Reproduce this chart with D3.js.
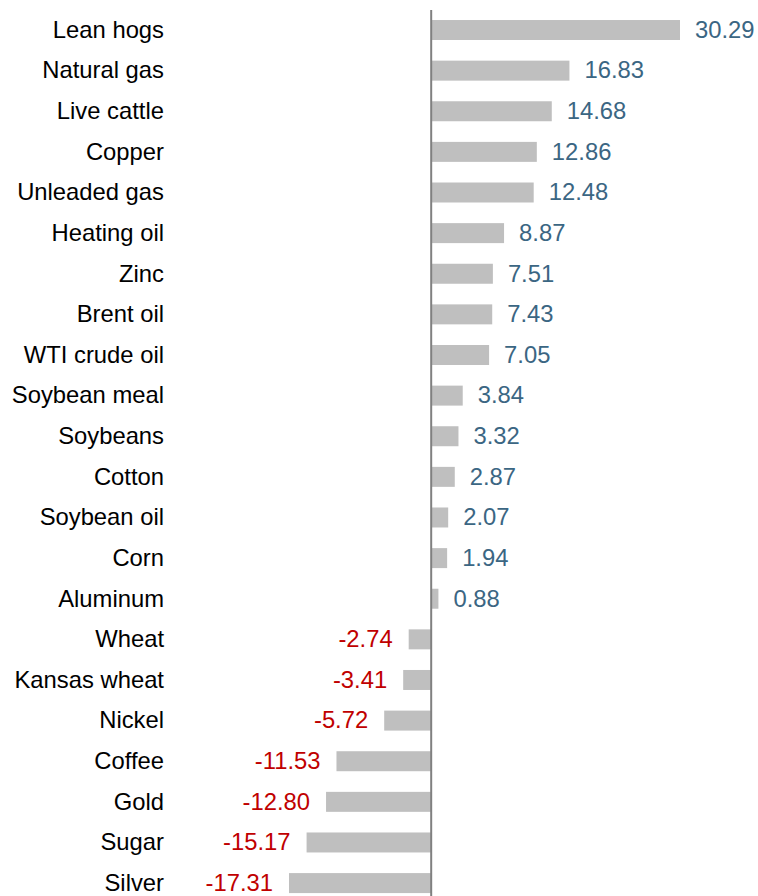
<!DOCTYPE html>
<html>
<head>
<meta charset="utf-8">
<script src="https://cdn.jsdelivr.net/npm/d3@7"></script>
<style>
    body { margin: 0; background: #fff; }
</style>
</head>
<body>
<svg id="chart" width="758" height="896"></svg>
<script>

// Data
const commodities = ["Lean hogs", "Natural gas", "Live cattle", "Copper", "Unleaded gas",
    "Heating oil", "Zinc", "Brent oil", "WTI crude oil", "Soybean meal", "Soybeans",
    "Cotton", "Soybean oil", "Corn", "Aluminum", "Wheat", "Kansas wheat", "Nickel",
    "Coffee", "Gold", "Sugar", "Silver"];
const changes = [30.29, 16.83, 14.68, 12.86, 12.48, 8.87, 7.51, 7.43, 7.05, 3.84, 3.32,
    2.87, 2.07, 1.94, 0.88, -2.74, -3.41, -5.72, -11.53, -12.80, -15.17, -17.31];

const data = commodities.map((c, i) => ({ name: c, value: changes[i] }));

const FONT = "'Liberation Sans', Arial, sans-serif";

const svg = d3.select("#chart");

// Scales
const x = d3.scaleLinear()
    .domain([-17.31, 30.29])
    .range([289, 680]);

const y = d3.scaleBand()
    .domain(commodities)
    .range([9.7, 903.4])
    .paddingInner(0.508)
    .paddingOuter(0.254);

// Bars
svg.selectAll(".bar")
    .data(data)
    .join("rect")
    .attr("class", "bar")
    .attr("x", d => x(Math.min(0, d.value)))
    .attr("y", d => y(d.name))
    .attr("width", d => Math.abs(x(d.value) - x(0)))
    .attr("height", y.bandwidth())
    .attr("fill", "#bfbfbf");

// Zero line
svg.append("line")
    .attr("x1", x(0)).attr("x2", x(0))
    .attr("y1", 10).attr("y2", 896)
    .attr("stroke", "#808080")
    .attr("stroke-width", 2);

// Category labels
svg.selectAll(".cat")
    .data(data)
    .join("text")
    .attr("class", "cat")
    .attr("x", 164)
    .attr("y", d => y(d.name) + y.bandwidth() / 2)
    .attr("dy", "0.33em")
    .attr("text-anchor", "end")
    .attr("font-family", FONT)
    .attr("font-size", 23.8)
    .attr("fill", "#000")
    .text(d => d.name);

// Value labels (hyphen minus, as in the original)
svg.selectAll(".val")
    .data(data)
    .join("text")
    .attr("class", "val")
    .attr("x", d => d.value >= 0 ? x(d.value) + 15 : x(d.value) - 16)
    .attr("y", d => y(d.name) + y.bandwidth() / 2)
    .attr("dy", "0.33em")
    .attr("text-anchor", d => d.value >= 0 ? "start" : "end")
    .attr("font-family", FONT)
    .attr("font-size", 23.8)
    .attr("fill", d => d.value >= 0 ? "#3b6683" : "#c00000")
    .text(d => d.value.toFixed(2));

</script>
</body>
</html>
